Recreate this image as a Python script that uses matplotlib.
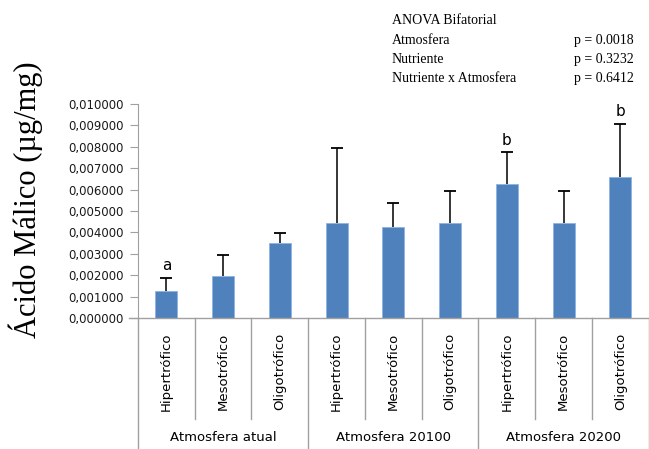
import matplotlib.pyplot as plt
import matplotlib.transforms as mtransforms

# Data
categories = ['Hipertrófico', 'Mesotrófico', 'Oligotrófico'] * 3
groups = ['Atmosfera atual', 'Atmosfera 20100', 'Atmosfera 20200']
means = [0.00128, 0.00198, 0.00349, 0.00443, 0.00424, 0.00443, 0.00625, 0.00443, 0.00660]
err_top = [0.00188, 0.00294, 0.00397, 0.00795, 0.00538, 0.00594, 0.00776, 0.00594, 0.00908]
letters = ['a', '', '', '', '', '', 'b', '', 'b']
anova_names = ['Atmosfera', 'Nutriente', 'Nutriente x Atmosfera']
anova_p = ['p = 0.0018', 'p = 0.3232', 'p = 0.6412']

BAR_COLOR = '#4F81BD'
GRID_GREY = '#A0A0A0'


def main():
    fig = plt.figure(figsize=(6.49, 4.49), dpi=100)
    ax = fig.add_axes([0.2126, 0.2918, 0.787, 0.4766])

    x = list(range(len(means)))

    ax.bar(x, means, width=0.39, color=BAR_COLOR, edgecolor='#8EB4E3',
           linewidth=0.6, zorder=2)
    # upper-only error bars with a cap at the top
    ax.vlines(x, means, err_top, color='black', lw=1.1, zorder=3)
    ax.plot(x, err_top, linestyle='none', marker='_', markersize=8,
            markeredgewidth=1.3, color='black', zorder=3)

    # Significance letters above error bars
    for xi, top, lab in zip(x, err_top, letters):
        if lab:
            ax.text(xi, top + 0.0002, lab, ha='center', va='bottom',
                    family='DejaVu Sans', fontsize=11)

    ax.set_xlim(-0.5, len(means) - 0.5)
    ax.set_ylim(0, 0.010)
    ax.set_yticks([i / 1000 for i in range(11)])
    ax.set_yticklabels(['{:.6f}'.format(i / 1000).replace('.', ',')
                        for i in range(11)],
                       family='DejaVu Sans', fontsize=8.5, color='#1a1a1a')
    ax.tick_params(axis='y', direction='out', length=6, color=GRID_GREY,
                   pad=4)

    for side in ['top', 'right', 'bottom']:
        ax.spines[side].set_visible(False)
    ax.spines['left'].set_color(GRID_GREY)

    ax.set_xticks([])

    trans = mtransforms.blended_transform_factory(ax.transData, ax.transAxes)
    # bottom category axis line
    ax.plot([-0.65, len(means) - 0.5], [0, 0], color=GRID_GREY, lw=1,
            transform=trans, clip_on=False)

    # category boundaries below the axis
    for i in range(len(means) + 1):
        b = i - 0.5
        depth = -0.62 if i % 3 == 0 else -0.47
        ax.plot([b, b], [0, depth], color=GRID_GREY, lw=1,
                transform=trans, clip_on=False)

    # category labels
    for xi, lab in zip(x, categories):
        ax.text(xi, -0.25, lab, rotation=90, ha='center', va='center',
                family='DejaVu Sans', fontsize=9.5, transform=trans)

    # group labels
    for gi, g in enumerate(groups):
        ax.text(gi * 3 + 1, -0.56, g, ha='center', va='center',
                family='DejaVu Sans', fontsize=9.5, transform=trans)

    # y label
    fig.text(0.04, 0.555, 'Ácido Málico (µg/mg)', rotation=90, ha='center',
             va='center', family='Liberation Serif', fontsize=22)

    # ANOVA box
    fig.text(0.604, 0.955, 'ANOVA Bifatorial', family='Liberation Serif',
             fontsize=10, va='center')
    for k, (name, p) in enumerate(zip(anova_names, anova_p)):
        yy = 0.909 - k * 0.042
        fig.text(0.604, yy, name, family='Liberation Serif', fontsize=10,
                 va='center')
        fig.text(0.885, yy, p, family='Liberation Serif', fontsize=10,
                 va='center')

    fig.savefig('out.png', dpi=100)


if __name__ == '__main__':
    main()
